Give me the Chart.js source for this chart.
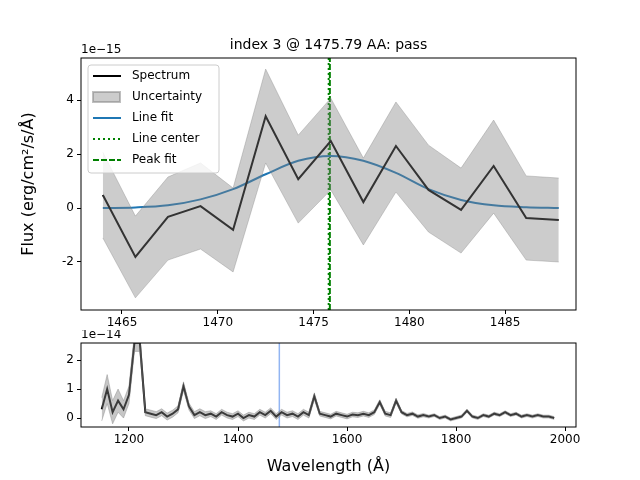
<!DOCTYPE html>
<html>
<head>
<meta charset="utf-8">
<script src="https://cdn.jsdelivr.net/npm/chart.js@4"></script>
<style>
  body{margin:0;background:#fff;}
  .box{position:absolute;left:0;width:640px;}
</style>
</head>
<body>
<div class="box" style="top:0;height:340px;"><canvas id="top"></canvas></div>
<div class="box" style="top:330px;height:150px;"><canvas id="bottom"></canvas></div>
<script>
/* ---------- data: zoomed panel (units of 1e-15) ---------- */
const waveZoom = [1464.0,1465.7,1467.4,1469.1,1470.8,1472.5,1474.2,1475.9,1477.6,1479.3,1481.0,1482.7,1484.4,1486.1,1487.8];
const fluxZoom = [0.48,-1.81,-0.33,0.07,-0.81,3.40,1.07,2.48,0.22,2.30,0.67,-0.07,1.56,-0.37,-0.44];
const upperZoom = [2.07,-0.30,1.15,1.67,0.74,5.15,2.70,4.07,1.85,3.93,2.33,1.48,3.26,1.19,1.11];
const lowerZoom = [-1.11,-3.33,-1.93,-1.52,-2.37,1.67,-0.56,0.67,-1.37,0.59,-0.89,-1.67,-0.19,-1.93,-2.00];
const lineFit = [0.00,0.02,0.10,0.32,0.70,1.25,1.75,1.93,1.75,1.30,0.70,0.30,0.10,0.03,0.00];
const lineCenter = 1475.79;
const peakFit = 1475.85;
const yTicksZoom = [-2,0,2,4];

/* ---------- data: full spectrum (units of 1e-14) ---------- */
const waveFull = [];
for(let w = 1150; w <= 1980; w += 10) waveFull.push(w);
const fluxFull = [0.3,1.0,0.2,0.6,0.3,0.8,2.6,2.6,0.2,0.15,0.1,0.2,0.05,0.15,0.3,1.1,0.4,0.1,0.2,0.1,
  0.15,0.05,0.2,0.1,0.05,0.15,0.0,0.1,0.05,0.2,0.1,0.25,0.05,0.2,0.1,0.15,0.05,0.2,0.1,0.75,
  0.15,0.1,0.05,0.15,0.1,0.05,0.12,0.1,0.15,0.1,0.2,0.55,0.15,0.1,0.6,0.2,0.1,0.15,0.05,0.1,
  0.05,0.1,0.0,0.05,-0.05,0.0,0.05,0.25,0.05,0.0,0.1,0.05,0.15,0.1,0.2,0.1,0.15,0.05,0.1,0.05,
  0.1,0.05,0.05,0.0];
const errFull = [0.4,0.5,0.4,0.4,0.3,0.3,0.3,0.3,0.12,0.12,0.12,0.12,0.12,0.12,0.12,0.15,0.12,0.12,0.12,0.12,
  0.1,0.1,0.1,0.1,0.1,0.1,0.1,0.1,0.1,0.1,0.1,0.1,0.1,0.1,0.1,0.1,0.1,0.1,0.1,0.12,
  0.08,0.08,0.08,0.08,0.08,0.08,0.08,0.08,0.08,0.08,0.08,0.08,0.08,0.08,0.08,0.06,0.06,0.06,0.06,0.06,
  0.05,0.05,0.05,0.05,0.05,0.05,0.05,0.05,0.05,0.05,0.05,0.05,0.05,0.05,0.05,0.05,0.05,0.05,0.05,0.05,
  0.05,0.05,0.05,0.05];
const yTicksFull = [0,1,2];

const FONT = "DejaVu Sans";
Chart.defaults.font.family = FONT;
Chart.defaults.color = "#000";
Chart.defaults.animation = false;

const pts = (xs, ys) => xs.map((x, i) => ({x: x, y: ys[i]}));

/* frame + extra text */
const framePlugin = {
  id: "frame",
  afterDraw(chart, args, opts){
    const c = chart.ctx, a = chart.chartArea;
    c.save();
    c.strokeStyle = "#000";
    c.lineWidth = 1;
    c.strokeRect(a.left, a.top, a.right - a.left, a.bottom - a.top);
    c.fillStyle = "#000";
    c.font = "12px " + FONT;
    c.textAlign = "left";
    c.textBaseline = "bottom";
    c.fillText(opts.offset, a.left, a.top - 2);
    if(opts.title){
      c.font = "14px " + FONT;
      c.textAlign = "center";
      c.fillText(opts.title, (a.left + a.right) / 2, a.top - 6);
    }
    if(opts.legend){
      const lx = a.left + 7, ly = a.top + 7;
      c.fillStyle = "rgba(255,255,255,0.8)";
      c.strokeStyle = "#ccc";
      c.beginPath();
      c.roundRect(lx, ly, 131, 108, 3);
      c.fill(); c.stroke();
      c.font = "12px " + FONT;
      c.textBaseline = "middle";
      c.textAlign = "left";
      opts.legend.forEach((it, i) => {
        const y = ly + 11 + i * 21;
        if(it.box){
          c.fillStyle = "rgba(128,128,128,0.4)";
          c.strokeStyle = "rgba(128,128,128,0.5)";
          c.fillRect(lx + 5, y - 5, 27, 10);
          c.strokeRect(lx + 5, y - 5, 27, 10);
        } else {
          c.strokeStyle = it.color;
          c.lineWidth = 2;
          c.setLineDash(it.dash || []);
          c.beginPath(); c.moveTo(lx + 5, y); c.lineTo(lx + 33, y); c.stroke();
          c.setLineDash([]);
        }
        c.fillStyle = "#000";
        c.fillText(it.label, lx + 44, y);
      });
    }
    c.restore();
  }
};

function axes(xmin, xmax, xstep, ymin, ymax, yticks, xTitle, xHeight, yTitle){
  return {
    x: {
      type: "linear", min: xmin, max: xmax,
      afterFit: s => { s.height = xHeight; },
      afterBuildTicks: s => {
        const t = [];
        for(let v = Math.ceil(xmin / xstep) * xstep; v <= xmax; v += xstep) t.push({value: v});
        s.ticks = t;
      },
      ticks: {font: {size: 12}, maxRotation: 0, padding: 2, callback: v => v},
      grid: {drawOnChartArea: false, tickLength: 4, color: "#000"},
      border: {display: false},
      title: {display: !!xTitle, text: xTitle, font: {size: 16}, padding: {top: 4}}
    },
    y: {
      min: ymin, max: ymax,
      afterFit: s => { s.width = 66; },
      afterBuildTicks: s => { s.ticks = yticks.map(v => ({value: v})); },
      ticks: {font: {size: 12}, padding: 3, callback: v => v},
      grid: {drawOnChartArea: false, tickLength: 4, color: "#000"},
      border: {display: false},
      title: {display: !!yTitle, text: yTitle, font: {size: 16}, padding: {bottom: 4}}
    }
  };
}

/* ---------- top panel ---------- */
new Chart(document.getElementById("top"), {
  type: "line",
  data: {
    datasets: [
      {data: pts(waveZoom, lowerZoom), borderColor: "rgba(128,128,128,0.35)", borderWidth: 1, pointRadius: 0, fill: false},
      {data: pts(waveZoom, upperZoom), borderColor: "rgba(128,128,128,0.35)", borderWidth: 1, pointRadius: 0,
        fill: "-1", backgroundColor: "rgba(128,128,128,0.4)"},
      {data: pts(waveZoom, fluxZoom), borderColor: "#000", borderWidth: 2, pointRadius: 0},
      {data: pts(waveZoom, lineFit), borderColor: "#1f77b4", borderWidth: 2, pointRadius: 0, cubicInterpolationMode: "monotone"},
      {data: [{x: lineCenter, y: -3.78}, {x: lineCenter, y: 5.56}], borderColor: "green", borderWidth: 2, borderDash: [2, 3], pointRadius: 0},
      {data: [{x: peakFit, y: -3.78}, {x: peakFit, y: 5.56}], borderColor: "green", borderWidth: 2, borderDash: [6, 2], pointRadius: 0}
    ]
  },
  options: {
    responsive: true, maintainAspectRatio: false,
    layout: {padding: {top: 58, right: 64, left: 15, bottom: 0}},
    plugins: {
      legend: {display: false}, tooltip: {enabled: false},
      frame: {
        offset: "1e\u221215",
        title: "index 3 @ 1475.79 AA: pass",
        legend: [
          {label: "Spectrum", color: "#000"},
          {label: "Uncertainty", box: true},
          {label: "Line fit", color: "#1f77b4"},
          {label: "Line center", color: "green", dash: [2, 3]},
          {label: "Peak fit", color: "green", dash: [6, 2]}
        ]
      }
    },
    scales: axes(1462.86, 1488.7, 5, -3.78, 5.56, yTicksZoom, "", 30, "Flux (erg/cm\u00b2/s/\u00c5)")
  },
  plugins: [framePlugin]
});

/* ---------- bottom panel ---------- */
new Chart(document.getElementById("bottom"), {
  type: "line",
  data: {
    datasets: [
      {data: pts(waveFull, fluxFull.map((v, i) => v - errFull[i])), borderColor: "rgba(128,128,128,0.4)", borderWidth: 1, pointRadius: 0, fill: false},
      {data: pts(waveFull, fluxFull.map((v, i) => v + errFull[i])), borderColor: "rgba(128,128,128,0.4)", borderWidth: 1, pointRadius: 0,
        fill: "-1", backgroundColor: "rgba(128,128,128,0.45)"},
      {data: pts(waveFull, fluxFull), borderColor: "#000", borderWidth: 2, pointRadius: 0},
      {data: [{x: lineCenter, y: -0.31}, {x: lineCenter, y: 2.59}], borderColor: "rgba(100,149,237,0.7)", borderWidth: 1.5, pointRadius: 0}
    ]
  },
  options: {
    responsive: true, maintainAspectRatio: false,
    layout: {padding: {top: 13, right: 64, left: 15, bottom: 0}},
    plugins: {legend: {display: false}, tooltip: {enabled: false}, frame: {offset: "1e\u221214"}},
    scales: axes(1112, 2020, 200, -0.31, 2.59, yTicksFull, "Wavelength (\u00c5)", 53, "")
  },
  plugins: [framePlugin]
});
</script>
</body>
</html>
